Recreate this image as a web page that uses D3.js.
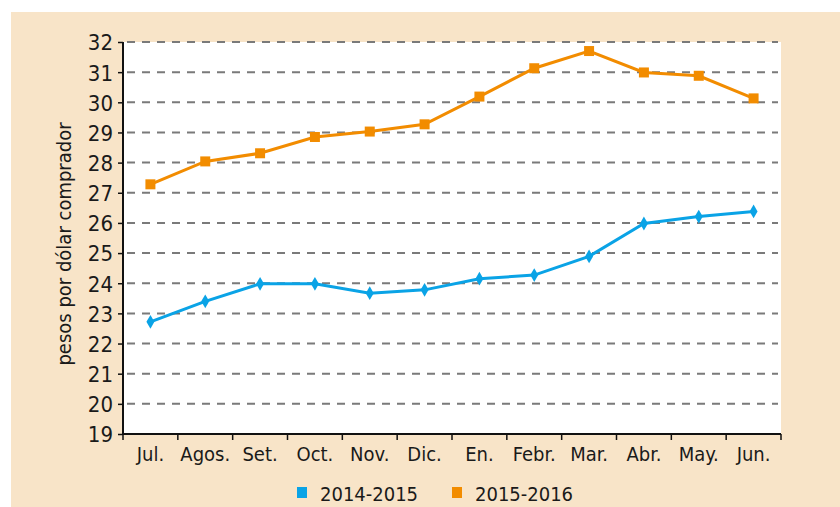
<!DOCTYPE html>
<html>
<head>
<meta charset="utf-8">
<script src="https://cdn.jsdelivr.net/npm/d3@7"></script>
<style>
  html, body { margin: 0; padding: 0; background: #fff; }
  svg text { font-family: "Liberation Sans Narrow", "DejaVu Sans Condensed", "Roboto", sans-serif; fill: #1a1a1a; }
</style>
</head>
<body>
<svg id="chart" width="840" height="507" viewBox="0 0 840 507"></svg>
<script>
const months = ["Jul.", "Agos.", "Set.", "Oct.", "Nov.", "Dic.", "En.", "Febr.", "Mar.", "Abr.", "May.", "Jun."];
const series2014 = [22.72, 23.4, 23.98, 23.98, 23.67, 23.78, 24.15, 24.27, 24.89, 25.98, 26.21, 26.38];
const series2015 = [27.28, 28.04, 28.31, 28.85, 29.03, 29.27, 30.19, 31.13, 31.7, 30.99, 30.88, 30.13];
const yTicks = d3.range(19, 33);
const seriesNames = ["2014-2015", "2015-2016"];

const blue = "#0aa3e6";
const orange = "#f28c00";

const svg = d3.select("#chart");
const margin = { left: 123, right: 59, top: 42, bottom: 73 };
const width = 840 - margin.left - margin.right;
const height = 507 - margin.top - margin.bottom;

// beige panel
svg.append("rect")
  .attr("x", 11).attr("y", 12)
  .attr("width", 829).attr("height", 495)
  .attr("fill", "#f8e4c8");

const g = svg.append("g").attr("transform", `translate(${margin.left},${margin.top})`);

g.append("rect")
  .attr("width", width).attr("height", height)
  .attr("fill", "#fff");

const x = d3.scaleBand().domain(months).range([0, width]).padding(0);
const y = d3.scaleLinear().domain([19, 32]).range([height, 0]);

// dashed gridlines
g.append("g")
  .selectAll("line")
  .data(yTicks.filter((d) => d > 19))
  .join("line")
  .attr("x1", 4)
  .attr("x2", width - 3)
  .attr("y1", (d) => y(d))
  .attr("y2", (d) => y(d))
  .attr("stroke", "#7a7a7a")
  .attr("stroke-width", 2)
  .attr("stroke-dasharray", "8,7");

// y axis
const yAxis = g.append("g")
  .call(d3.axisLeft(y).tickValues(yTicks).tickSize(5).tickPadding(5).tickFormat(d3.format("d")));
yAxis.select(".domain").attr("stroke", "#111").attr("stroke-width", 2).attr("d", `M0,${height}V0`);
yAxis.selectAll(".tick line").attr("stroke", "#111").attr("stroke-width", 1.5);
yAxis.selectAll(".tick text")
  .style("font-size", "22px")
  .attr("dy", "0.36em");

// x axis with ticks at band boundaries
const xAxisG = g.append("g").attr("transform", `translate(0,${height})`);
xAxisG.append("line")
  .attr("x1", 0).attr("x2", width)
  .attr("stroke", "#111").attr("stroke-width", 2);
xAxisG.selectAll("line.tk")
  .data(d3.range(months.length + 1))
  .join("line")
  .attr("class", "tk")
  .attr("x1", (i) => i * x.step())
  .attr("x2", (i) => i * x.step())
  .attr("y1", 0).attr("y2", 6)
  .attr("stroke", "#111").attr("stroke-width", 1.5);
xAxisG.selectAll("text")
  .data(months)
  .join("text")
  .attr("x", (d) => x(d) + x.bandwidth() / 2)
  .attr("y", 27)
  .attr("text-anchor", "middle")
  .style("font-size", "20px")
  .text((d) => d);

// y label
svg.append("text")
  .attr("transform", "translate(71,244) rotate(-90)")
  .attr("text-anchor", "middle")
  .style("font-size", "20px")
  .text("pesos por dólar comprador");

const line = d3.line()
  .x((d, i) => x(months[i]) + x.bandwidth() / 2)
  .y((d) => y(d));

// 2014-2015
g.append("path")
  .datum(series2014)
  .attr("d", line)
  .attr("fill", "none")
  .attr("stroke", blue)
  .attr("stroke-width", 3);
g.selectAll("path.dia")
  .data(series2014)
  .join("path")
  .attr("class", "dia")
  .attr("transform", (d, i) => `translate(${x(months[i]) + x.bandwidth() / 2},${y(d)})`)
  .attr("d", d3.symbol(d3.symbolDiamond, 55))
  .attr("fill", blue);

// 2015-2016
g.append("path")
  .datum(series2015)
  .attr("d", line)
  .attr("fill", "none")
  .attr("stroke", orange)
  .attr("stroke-width", 3);
g.selectAll("rect.sq")
  .data(series2015)
  .join("rect")
  .attr("class", "sq")
  .attr("x", (d, i) => x(months[i]) + x.bandwidth() / 2 - 5)
  .attr("y", (d) => y(d) - 5)
  .attr("width", 10).attr("height", 10)
  .attr("fill", orange);

// legend
const legend = svg.append("g").attr("transform", "translate(297,482)");
const legendX = [0, 155];
const legendColors = [blue, orange];
seriesNames.forEach((name, i) => {
  legend.append("rect")
    .attr("x", legendX[i]).attr("y", 5)
    .attr("width", 10).attr("height", 11)
    .attr("fill", legendColors[i]);
  legend.append("text")
    .attr("x", legendX[i] + 23).attr("y", 19)
    .style("font-size", "20px")
    .text(name);
});
</script>
</body>
</html>
